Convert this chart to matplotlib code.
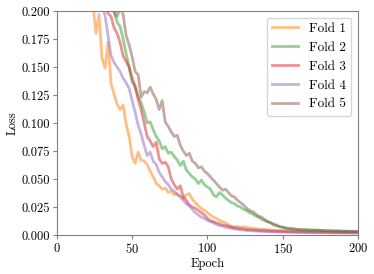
import numpy as np
import matplotlib
matplotlib.use('Agg')
import matplotlib.pyplot as plt

# loss per fold, sampled every 2 epochs (0, 2, ..., 200)
fold1 = [0.55, 0.48, 0.42, 0.38, 0.34, 0.31, 0.29, 0.27, 0.25, 0.24,
         0.23, 0.215, 0.205, 0.180, 0.197, 0.158, 0.149, 0.172, 0.135, 0.126,
         0.117, 0.112, 0.116, 0.099, 0.088, 0.070, 0.064, 0.074, 0.067, 0.066,
         0.063, 0.057, 0.052, 0.046, 0.044, 0.041, 0.042, 0.038, 0.039, 0.036,
         0.037, 0.035, 0.033, 0.036, 0.037, 0.032, 0.029, 0.026, 0.024, 0.022,
         0.020, 0.018, 0.016, 0.015, 0.013, 0.012, 0.011, 0.009, 0.008, 0.007,
         0.008, 0.007, 0.0075, 0.007, 0.0065, 0.006, 0.0058, 0.0055, 0.0052, 0.005,
         0.0048, 0.0046, 0.0045, 0.0043, 0.0042, 0.004, 0.0039, 0.0038, 0.0037, 0.0036,
         0.0035, 0.0035, 0.0034, 0.0033, 0.0033, 0.0032, 0.0032, 0.0031, 0.0031, 0.003,
         0.003, 0.003, 0.0029, 0.0029, 0.0029, 0.0028, 0.0028, 0.0028, 0.0028, 0.0027,
         0.0027]
fold2 = [0.58, 0.50, 0.44, 0.40, 0.36, 0.33, 0.31, 0.29, 0.275, 0.26,
         0.25, 0.24, 0.235, 0.228, 0.222, 0.216, 0.212, 0.208, 0.204, 0.200,
         0.190, 0.186, 0.175, 0.162, 0.150, 0.137, 0.132, 0.124, 0.118, 0.110,
         0.100, 0.101, 0.094, 0.088, 0.084, 0.077, 0.079, 0.073, 0.074, 0.070,
         0.067, 0.062, 0.066, 0.058, 0.055, 0.052, 0.050, 0.046, 0.049, 0.045,
         0.043, 0.041, 0.036, 0.034, 0.038, 0.036, 0.033, 0.031, 0.029, 0.028,
         0.026, 0.025, 0.023, 0.022, 0.020, 0.019, 0.017, 0.016, 0.014, 0.013,
         0.012, 0.011, 0.010, 0.009, 0.0075, 0.007, 0.0065, 0.006, 0.0058, 0.0055,
         0.005, 0.0048, 0.0047, 0.0049, 0.0045, 0.0044, 0.0046, 0.0043, 0.0042, 0.004,
         0.004, 0.0038, 0.0037, 0.0039, 0.0036, 0.0035, 0.0036, 0.0034, 0.0034, 0.0033,
         0.0033]
fold3 = [0.62, 0.54, 0.47, 0.42, 0.38, 0.35, 0.32, 0.30, 0.28, 0.265,
         0.25, 0.24, 0.232, 0.225, 0.218, 0.21, 0.205, 0.198, 0.195, 0.185,
         0.180, 0.172, 0.160, 0.155, 0.150, 0.140, 0.133, 0.121, 0.112, 0.100,
         0.088, 0.084, 0.079, 0.083, 0.068, 0.064, 0.065, 0.061, 0.050, 0.045,
         0.041, 0.044, 0.034, 0.031, 0.027, 0.025, 0.024, 0.022, 0.020, 0.018,
         0.015, 0.013, 0.012, 0.011, 0.010, 0.009, 0.0085, 0.008, 0.007, 0.0065,
         0.006, 0.0057, 0.0054, 0.005, 0.0048, 0.0046, 0.0044, 0.0042, 0.004, 0.0039,
         0.0038, 0.0036, 0.0035, 0.0034, 0.0033, 0.0032, 0.0031, 0.003, 0.003, 0.0029,
         0.0029, 0.0028, 0.0028, 0.0027, 0.0027, 0.0026, 0.0026, 0.0026, 0.0025, 0.0025,
         0.0025, 0.0024, 0.0024, 0.0024, 0.0023, 0.0023, 0.0023, 0.0023, 0.0022, 0.0022,
         0.0022]
fold4 = [0.60, 0.52, 0.46, 0.41, 0.37, 0.34, 0.31, 0.29, 0.27, 0.255,
         0.245, 0.235, 0.228, 0.22, 0.212, 0.206, 0.196, 0.178, 0.160, 0.154,
         0.150, 0.146, 0.140, 0.136, 0.131, 0.120, 0.110, 0.098, 0.090, 0.080,
         0.071, 0.074, 0.066, 0.063, 0.056, 0.052, 0.048, 0.045, 0.041, 0.039,
         0.036, 0.034, 0.031, 0.028, 0.026, 0.023, 0.020, 0.018, 0.016, 0.015,
         0.013, 0.012, 0.011, 0.0095, 0.0085, 0.008, 0.007, 0.0065, 0.006, 0.0055,
         0.005, 0.0047, 0.0045, 0.0042, 0.004, 0.0038, 0.0036, 0.0034, 0.0033, 0.0032,
         0.0031, 0.003, 0.0029, 0.0028, 0.0027, 0.0026, 0.0026, 0.0025, 0.0025, 0.0024,
         0.0024, 0.0023, 0.0023, 0.0022, 0.0022, 0.0022, 0.0021, 0.0021, 0.0021, 0.002,
         0.002, 0.002, 0.002, 0.0019, 0.0019, 0.0019, 0.0019, 0.0018, 0.0018, 0.0018,
         0.0018]
fold5 = [0.65, 0.56, 0.49, 0.44, 0.40, 0.36, 0.33, 0.31, 0.29, 0.275,
         0.262, 0.25, 0.24, 0.232, 0.225, 0.218, 0.212, 0.208, 0.204, 0.199,
         0.195, 0.203, 0.197, 0.178, 0.170, 0.159, 0.146, 0.143, 0.123, 0.128,
         0.127, 0.132, 0.126, 0.121, 0.112, 0.120, 0.101, 0.097, 0.092, 0.088,
         0.089, 0.080, 0.075, 0.071, 0.073, 0.066, 0.064, 0.060, 0.061, 0.057,
         0.055, 0.052, 0.049, 0.046, 0.043, 0.040, 0.041, 0.038, 0.035, 0.034,
         0.031, 0.029, 0.027, 0.024, 0.022, 0.021, 0.019, 0.017, 0.016, 0.014,
         0.012, 0.011, 0.009, 0.0085, 0.0075, 0.007, 0.006, 0.0058, 0.0055, 0.0052,
         0.005, 0.0049, 0.0047, 0.0046, 0.0045, 0.0044, 0.0043, 0.0042, 0.0041, 0.004,
         0.0039, 0.0038, 0.0037, 0.0036, 0.0035, 0.0034, 0.0033, 0.0033, 0.0032, 0.0032,
         0.0031]

folds = [fold1, fold2, fold3, fold4, fold5]
labels = ['Fold 1', 'Fold 2', 'Fold 3', 'Fold 4', 'Fold 5']
colors = ['tab:orange', 'tab:green', 'tab:red', 'tab:purple', 'tab:brown']

plt.rcParams['font.family'] = 'serif'
plt.rcParams['font.serif'] = ['cmr10']
plt.rcParams['mathtext.fontset'] = 'cm'
plt.rcParams['axes.formatter.use_mathtext'] = True
plt.rcParams['font.size'] = 9

fig = plt.figure(figsize=(3.74, 2.74), dpi=100)
ax = fig.add_axes([0.152, 0.142, 0.805, 0.818])

for vals, lab, c in zip(folds, labels, colors):
    epochs = np.arange(len(vals)) * 2
    ax.plot(epochs, vals, color=c, alpha=0.5, lw=2, label=lab)

ax.set_xlim(0, 200)
ax.set_ylim(0, 0.2)
ax.set_xticks([0, 50, 100, 150, 200])
ax.set_yticks(np.arange(0, 0.201, 0.025))
ax.yaxis.set_major_formatter(plt.FormatStrFormatter('%.3f'))
ax.set_xlabel('Epoch', labelpad=1)
ax.set_ylabel('Loss', labelpad=2)
for s in ax.spines.values():
    s.set_color('#808080')
ax.tick_params(color='#808080', length=3, pad=2)
ax.legend(loc='upper right', fontsize=9.5)

fig.savefig('out.png', dpi=100)
